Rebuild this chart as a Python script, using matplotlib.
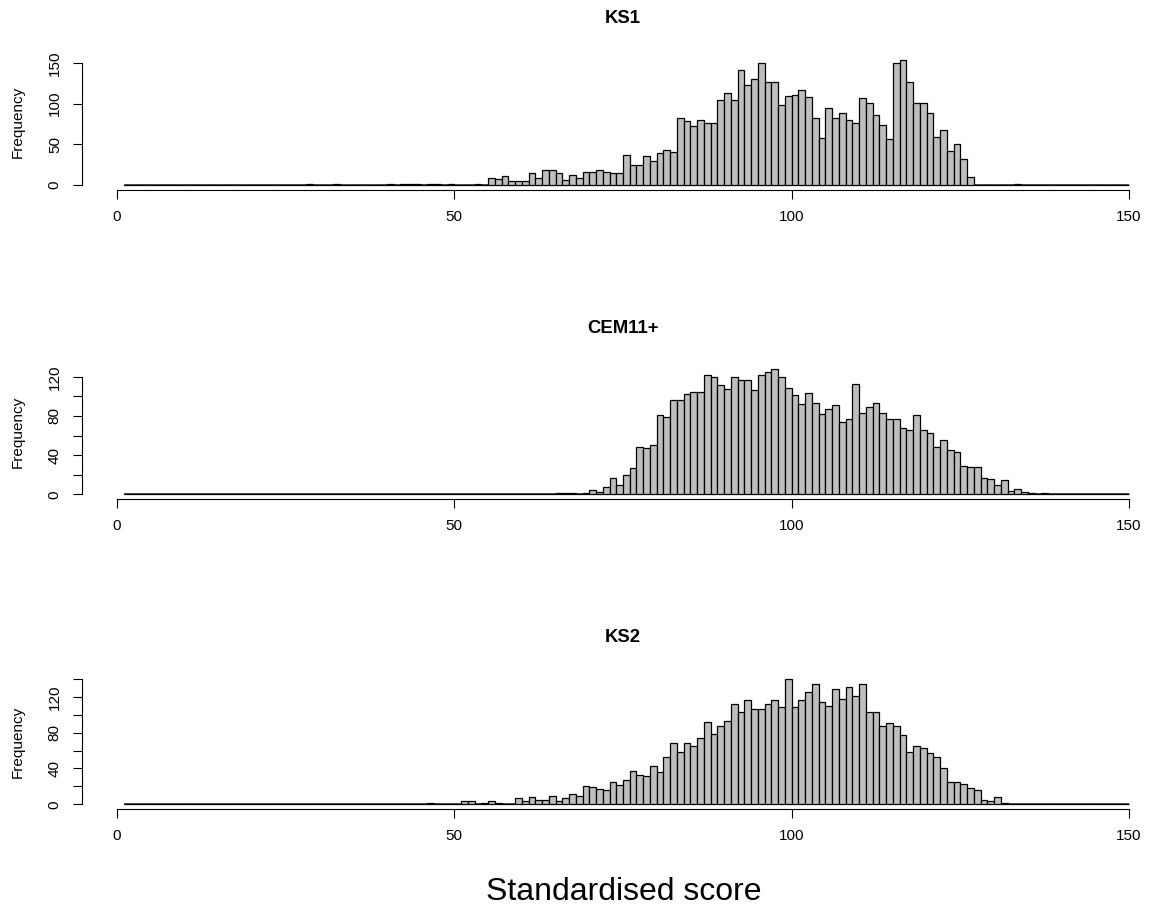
import matplotlib
matplotlib.use("Agg")
import matplotlib.pyplot as plt
import numpy as np

plt.rcParams["font.family"] = ["Liberation Sans", "DejaVu Sans"]

# histogram breaks: unit-wide bins from 1 to 150
breaks = np.arange(1, 151)

# counts per bin, starting at the bin whose left edge is *_first
ks1_first = 28
ks1_counts = [1, 0, 0, 0, 1, 0, 0, 0, 0, 0, 0, 0, 1, 0, 1, 1, 1, 0, 1, 1,
              0, 1, 0, 0, 0, 1, 0, 9, 7, 11, 5, 5, 5, 15, 9, 18, 18, 15, 6, 12,
              9, 16, 16, 18, 16, 15, 15, 37, 24, 25, 36, 30, 39, 43, 41, 82, 79, 73, 80, 76,
              76, 104, 113, 105, 141, 123, 130, 150, 126, 126, 98, 109, 111, 117, 108, 82, 58, 95, 82, 89,
              80, 76, 107, 101, 86, 74, 57, 150, 154, 126, 101, 101, 88, 59, 67, 42, 50, 32, 10, 0,
              0, 0, 0, 0, 0, 1]

cem_first = 65
cem_counts = [1, 1, 1, 0, 1, 4, 2, 7, 17, 9, 20, 27, 48, 47, 50, 81, 79, 96, 96, 102,
              105, 105, 122, 120, 112, 108, 120, 117, 117, 107, 122, 125, 128, 120, 109, 101, 92, 104, 93, 82,
              87, 91, 74, 77, 113, 83, 89, 93, 83, 77, 77, 68, 66, 81, 66, 63, 48, 55, 45, 43,
              29, 28, 28, 17, 16, 10, 15, 3, 5, 2, 1, 0, 1]

ks2_first = 46
ks2_counts = [1, 0, 0, 0, 0, 4, 4, 0, 1, 4, 1, 0, 0, 7, 4, 8, 5, 5, 9, 4,
              7, 11, 9, 20, 19, 17, 16, 25, 21, 27, 37, 33, 32, 43, 36, 53, 68, 58, 69, 65,
              74, 92, 78, 88, 93, 112, 103, 117, 106, 106, 112, 117, 109, 140, 109, 117, 125, 134, 114, 110,
              129, 118, 131, 121, 134, 103, 103, 88, 91, 88, 77, 58, 65, 63, 57, 53, 41, 25, 25, 23,
              18, 16, 5, 4, 8, 1]

titles = ["KS1", "CEM11+", "KS2"]
firsts = [ks1_first, cem_first, ks2_first]
all_counts = [ks1_counts, cem_counts, ks2_counts]
y_ticks = [[0, 50, 100, 150],
           [0, 20, 40, 60, 80, 100, 120],
           [0, 20, 40, 60, 80, 100, 120, 140]]
y_labels = [["0", "50", "100", "150"],
            ["0", "", "40", "", "80", "", "120"],
            ["0", "", "40", "", "80", "", "120", ""]]
x_ticks = [0, 50, 100, 150]

W, H = 1149, 908
fig = plt.figure(figsize=(W / 100, H / 100), dpi=100)

left_px, right_px = 82, 1140
px_per_unit = (1129 - 117) / 150
x_lo = -(117 - left_px) / px_per_unit
x_hi = (right_px - 117) / px_per_unit
bottoms_px = [190, 499.3, 809.3]
height_px = 135.3

for i in range(3):
    counts = np.zeros(len(breaks) - 1)
    start = firsts[i] - breaks[0]
    counts[start:start + len(all_counts[i])] = all_counts[i]
    ymax = counts.max()

    ax = fig.add_axes([left_px / W, (H - bottoms_px[i]) / H,
                       (right_px - left_px) / W, height_px / H])
    # empty bins still get an outline, so the zero line spans every break
    ax.hlines(0, breaks[0], breaks[-1], color="#222222", linewidth=1.1, zorder=1)
    ax.bar(breaks[:-1], counts, width=1, align="edge", color="#BEBEBE",
           edgecolor="black", linewidth=0.9, zorder=2)
    ax.set_xlim(x_lo, x_hi)
    ax.set_ylim(-0.04 * ymax, 1.04 * ymax)

    for side in ["top", "right"]:
        ax.spines[side].set_visible(False)
    ax.spines["left"].set_bounds(0, y_ticks[i][-1])
    ax.spines["bottom"].set_bounds(0, 150)
    for side in ["left", "bottom"]:
        ax.spines[side].set_linewidth(0.8)

    ax.set_xticks(x_ticks, [str(t) for t in x_ticks])
    ax.set_yticks(y_ticks[i], y_labels[i], rotation=90, va="center")
    ax.tick_params(axis="both", direction="out", length=6.5, width=0.8,
                   labelsize=11, pad=8)

    top_px = bottoms_px[i] - height_px
    fig.text(18 / W, (H - (top_px + bottoms_px[i]) / 2) / H, "Frequency",
             rotation=90, ha="center", va="center", fontsize=11)
    fig.text(623 / W, (H - (23 + 309.6 * i)) / H, titles[i],
             ha="center", va="baseline", fontsize=13.3, fontweight="bold")

fig.text(624 / W, (H - 900) / H, "Standardised score",
         ha="center", va="baseline", fontsize=23)

fig.savefig("out.png", dpi=100)
